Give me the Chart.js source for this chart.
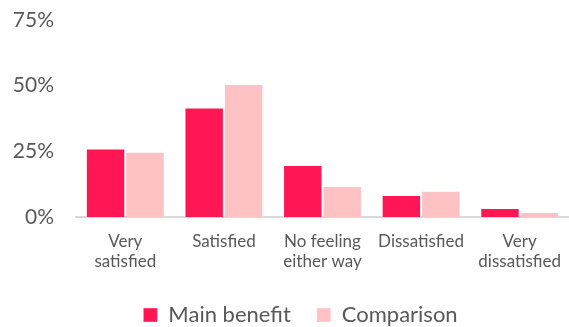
<!DOCTYPE html>
<html>
<head>
<meta charset="utf-8">
<script src="https://cdn.jsdelivr.net/npm/chart.js@4.4.1/dist/chart.umd.min.js"></script>
<style>
  html, body { margin: 0; padding: 0; background: #fff; }
  #wrap { width: 569px; height: 327px; position: relative; }
</style>
</head>
<body>
<div id="wrap"><canvas id="chart"></canvas></div>
<script>
const categories   = [["Very", "satisfied"], "Satisfied", ["No feeling", "either way"], "Dissatisfied", ["Very", "dissatisfied"]];
const seriesNames  = ["Main benefit", "Comparison"];
const mainBenefit  = [26.1, 41.7, 19.8, 8.4, 3.4];
const comparison   = [24.8, 50.6, 11.8, 10.0, 1.9];
const yTicks       = [0, 25, 50, 75];

const textColor = "#595959";
const fontName  = "Lato, 'Open Sans', sans-serif";

// legend is centred under the plot in the original, not under the whole canvas
const shiftLegend = {
  id: "shiftLegend",
  afterLayout(chart) {
    const lg = chart.legend;
    lg.left += 16;
    lg.right += 16;
  }
};

const chart = new Chart(document.getElementById("chart").getContext("2d"), {
  type: "bar",
  data: {
    labels: categories,
    datasets: [
      { label: seriesNames[0], data: mainBenefit, backgroundColor: "#ff1654", borderColor: "rgba(255,255,255,0.35)", borderWidth: 1 },
      { label: seriesNames[1], data: comparison,  backgroundColor: "#ffc2c4", borderColor: "rgba(255,255,255,0.35)", borderWidth: 1 }
    ]
  },
  plugins: [shiftLegend],
  options: {
    responsive: true,
    maintainAspectRatio: false,
    animation: false,
    layout: { padding: { left: 0, right: 0, top: 20, bottom: 0 } },
    datasets: { bar: { categoryPercentage: 0.8, barPercentage: 1.0 } },
    scales: {
      x: {
        grid: { display: false },
        border: { color: "#d9d9d9", width: 2 },
        afterFit: (s) => { s.height = 61; },
        ticks: { color: textColor, font: { family: fontName, size: 17 }, maxRotation: 0, padding: 6 }
      },
      y: {
        min: 0, max: 75,
        afterBuildTicks: (s) => { s.ticks = yTicks.map(v => ({ value: v })); },
        afterFit: (s) => { s.width = 76; s.paddingTop = 0; s.paddingBottom = 0; },
        grid: { display: false },
        border: { display: false },
        ticks: { color: textColor, padding: 14, font: { family: fontName, size: 21 }, callback: (v) => v + "%" }
      }
    },
    plugins: {
      tooltip: { enabled: false },
      legend: {
        position: "bottom",
        maxHeight: 49,
        labels: { color: textColor, boxWidth: 14, boxHeight: 14, padding: 26, font: { family: fontName, size: 22 } }
      }
    }
  }
});
</script>
</body>
</html>
